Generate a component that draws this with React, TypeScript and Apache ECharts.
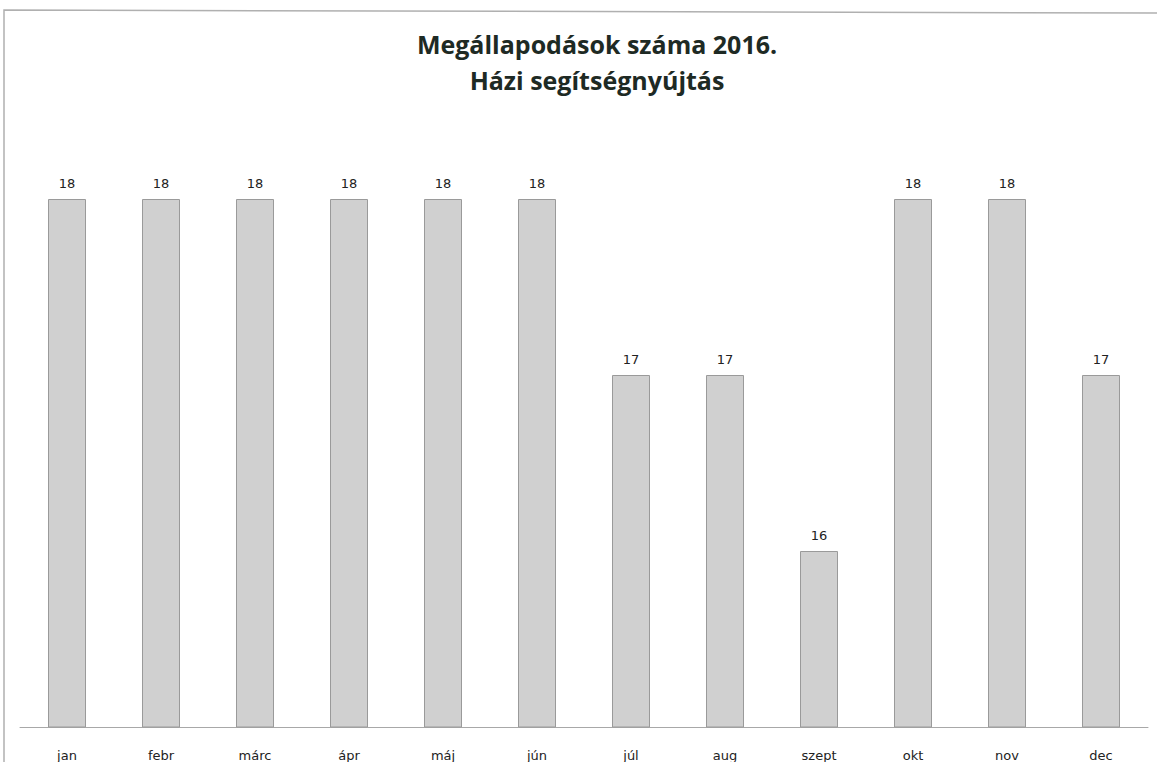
import React, { useEffect, useRef } from "react";
import * as echarts from "echarts";

const categories = ["jan", "febr", "márc", "ápr", "máj", "jún", "júl", "aug", "szept", "okt", "nov", "dec"];
const values = [18, 18, 18, 18, 18, 18, 17, 17, 16, 18, 18, 17];
const titleLines = ["Megállapodások száma 2016.", "Házi segítségnyújtás"];

export default function App() {
  const ref = useRef<HTMLDivElement>(null);
  useEffect(() => {
    if (!ref.current) return;
    const chart = echarts.init(ref.current, null, { renderer: "svg" });
    chart.setOption({
      animation: false,
      backgroundColor: "#ffffff",
      title: {
        text: titleLines.join("\n"),
        left: 592,
        textAlign: "center",
        top: 21,
        textStyle: {
          fontFamily: "Open Sans",
          fontWeight: "bold",
          fontSize: 25,
          lineHeight: 36,
          color: "#1e2a24",
        },
      },
      graphic: [
        {
          type: "polyline",
          shape: { points: [[4, 762], [4, 10], [1157, 13]] },
          style: { stroke: "#b0b0b0", lineWidth: 1.5, fill: "none" },
          silent: true,
        },
      ],
      grid: { left: 20, right: 9, top: 199, bottom: 35, containLabel: false },
      xAxis: {
        type: "category",
        data: categories,
        axisLine: { show: true, lineStyle: { color: "#a8a8a8", width: 1 } },
        axisTick: { show: false },
        axisLabel: {
          margin: 22,
          fontSize: 13,
          fontFamily: "DejaVu Sans",
          color: "#222",
        },
      },
      yAxis: {
        type: "value",
        min: 15,
        max: 18,
        show: false,
        splitLine: { show: false },
      },
      series: [
        {
          type: "bar",
          data: values,
          barWidth: 38,
          itemStyle: { color: "#d0d0d0", borderColor: "#9a9a9a", borderWidth: 1 },
          label: {
            show: true,
            position: "top",
            distance: 9,
            fontSize: 13,
            fontFamily: "DejaVu Sans",
            color: "#222",
          },
        },
      ],
    });
    return () => chart.dispose();
  }, []);
  return <div ref={ref} style={{ width: 1157, height: 762, position: "absolute", left: 0, top: 0 }} />;
}
